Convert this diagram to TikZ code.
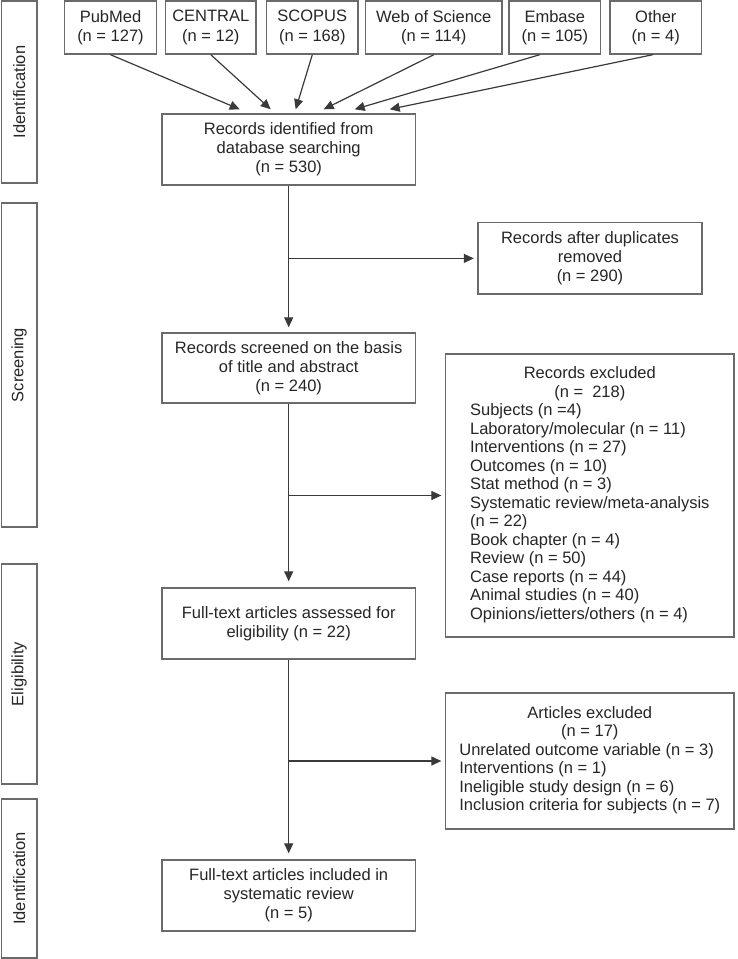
\documentclass[tikz,border=0pt]{standalone}
\usepackage{fontspec}
\setmainfont{Liberation Sans}
\usetikzlibrary{arrows.meta}
\definecolor{linegray}{HTML}{3A3A3A}
\definecolor{boxgray}{HTML}{6A6A6A}
\definecolor{textgray}{HTML}{262626}

\begin{document}
\begin{tikzpicture}[x=1pt, y=1pt,
  box/.style={draw=boxgray, line width=1.4pt, fill=white, inner sep=0pt, align=center,
    text=textgray, font=\fontsize{16.5}{19.2}\selectfont},
  listbox/.style={box, font=\fontsize{16.5}{18.5}\selectfont},
  stagebox/.style={box, rotate=90, minimum height=35.7pt},
  arr/.style={linegray, line width=1.2pt, -{Triangle[length=10pt, width=9pt]}}]
  \useasboundingbox (0,0) rectangle (737,-959);
  \node[stagebox, minimum width=182pt] (stage1) at (19.2,-92) {Identification};
  \node[stagebox, minimum width=324pt] (stage2) at (19.2,-365) {Screening};
  \node[stagebox, minimum width=220pt] (stage3) at (19.2,-674) {Eligibility};
  \node[stagebox, minimum width=159pt] (stage4) at (19.2,-878.5) {Identification};
  \node[box, minimum width=92pt, minimum height=53pt] (pubmed) at (110.5,-27.5) {PubMed\\(n = 127)};
  \node[box, minimum width=90.7pt, minimum height=53pt] (central) at (210.8,-27.5) {CENTRAL\\(n = 12)};
  \node[box, minimum width=91.7pt, minimum height=53pt] (scopus) at (312.3,-27.5) {SCOPUS\\(n = 168)};
  \node[box, minimum width=136.3pt, minimum height=53pt] (wos) at (433.8,-27.5) {Web of Science\\(n = 114)};
  \node[box, minimum width=91.7pt, minimum height=53pt] (embase) at (554.8,-27.5) {Embase\\(n = 105)};
  \node[box, minimum width=91.6pt, minimum height=53pt] (other) at (655.8,-27.5) {Other\\(n = 4)};
  \node[box, minimum width=253.4pt, minimum height=71pt] (ident) at (288.7,-149.5) {Records identified from\\database searching\\(n = 530)};
  \node[box, minimum width=224pt, minimum height=71.3pt] (dup) at (590,-258.4) {Records after duplicates\\removed\\(n = 290)};
  \node[box, minimum width=253.4pt, minimum height=70pt] (screened) at (288.7,-368) {Records screened on the basis\\of title and abstract\\(n = 240)};
  \node[listbox, minimum width=288.5pt, minimum height=283pt] (excl) at (589.8,-495.5) {\begin{tabular}{@{}l@{}}
    \multicolumn{1}{c}{Records excluded}\\
    \multicolumn{1}{c}{(n = \ 218)}\\
    Subjects (n =4)\\
    Laboratory/molecular (n = 11)\\
    Interventions (n = 27)\\
    Outcomes (n = 10)\\
    Stat method (n = 3)\\
    Systematic review/meta-analysis\\
    (n = 22)\\
    Book chapter (n = 4)\\
    Review (n = 50)\\
    Case reports (n = 44)\\
    Animal studies (n = 40)\\
    Opinions/ietters/others (n = 4)
  \end{tabular}};
  \node[box, minimum width=253.4pt, minimum height=71pt] (assessed) at (288.7,-623.5) {Full-text articles assessed for\\eligibility (n = 22)};
  \node[listbox, minimum width=288.5pt, minimum height=136pt] (artexcl) at (589.8,-761) {\begin{tabular}{@{}l@{}}
    \multicolumn{1}{c}{Articles excluded}\\
    \multicolumn{1}{c}{(n = 17)}\\
    Unrelated outcome variable (n = 3)\\
    Interventions (n = 1)\\
    Ineligible study design (n = 6)\\
    Inclusion criteria for subjects (n = 7)
  \end{tabular}};
  \node[box, minimum width=253.4pt, minimum height=71pt] (included) at (288.7,-895.5) {Full-text articles included in\\systematic review\\(n = 5)};
  \draw[arr] (pubmed.south) -- ([xshift=-49pt,yshift=4pt]ident.north);
  \draw[arr] (central.south) -- ([xshift=-18pt,yshift=4pt]ident.north);
  \draw[arr] (scopus.south) -- ([xshift=7pt,yshift=4pt]ident.north);
  \draw[arr] (wos.south) -- ([xshift=35pt,yshift=4pt]ident.north);
  \draw[arr] ([xshift=-15pt]embase.south) -- ([xshift=66pt,yshift=4pt]ident.north);
  \draw[arr] ([xshift=-3pt]other.south) -- ([xshift=101pt,yshift=4pt]ident.north);
  \coordinate (split1) at (ident.south |- dup.west);
  \coordinate (split2) at (screened.south |- excl.west);
  \coordinate (split3) at (assessed.south |- artexcl.west);
  \draw[arr, shorten >=5pt] (ident) -- (screened);
  \draw[arr, shorten >=6pt] (screened) -- (assessed);
  \draw[arr, shorten >=6pt] (assessed) -- (included);
  \draw[arr, shorten >=3.5pt] (split1) -- (dup.west);
  \draw[arr, shorten >=3.5pt] (split2) -- (excl.west);
  \draw[arr, shorten >=3.5pt] (split3) -- (artexcl.west);
\end{tikzpicture}
\end{document}
